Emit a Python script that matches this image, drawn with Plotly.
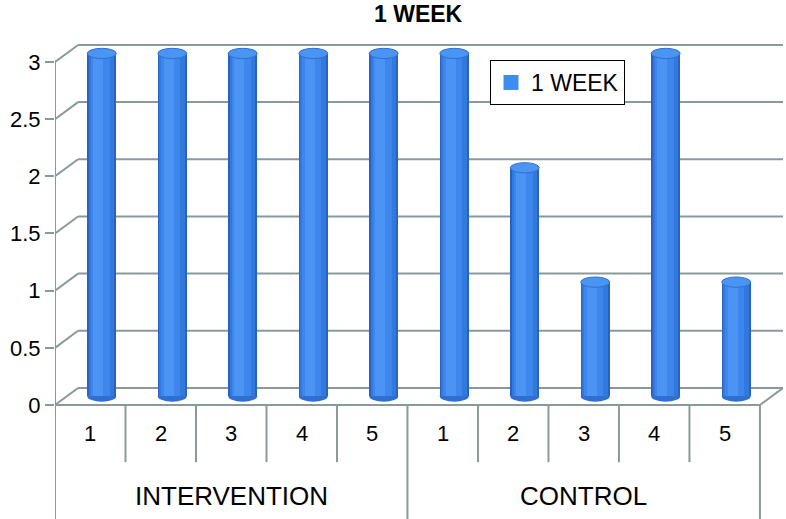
import plotly.graph_objects as go

# data
title = "1 WEEK"
groups = ["INTERVENTION", "CONTROL"]
subjects = ["1", "2", "3", "4", "5"]
intervention = [3, 3, 3, 3, 3]
control = [3, 2, 1, 3, 1]
y_ticks = [0, 0.5, 1, 1.5, 2, 2.5, 3]

values = intervention + control
xpos = list(range(len(values)))
n = len(values)

# fake 3d geometry (in axis units)
W, H = 786, 519
ml, mr = 55, 3
d = 0.327          # depth offset in x
dv = 0.149         # depth offset in y
bw = 0.41          # cylinder width
ry = 0.045         # ellipse half height
ymin, ymax = -0.997, 3.542
grid = "#8a9a9a"
font = "Liberation Sans, Arial, sans-serif"

fig = go.Figure()

# cylinder body, built from overlaid strips
strips = [  # (width, centre shift, colour)
    (bw, 0.0, "#2a62c2"),
    (bw * 0.88, -0.005, "#3378dc"),
    (bw * 0.66, -0.02, "#3d87ec"),
    (bw * 0.34, -0.05, "#4b94f3"),
]
for k, (w, sh, col) in enumerate(strips):
    fig.add_trace(go.Bar(
        x=xpos, y=values, base=[dv / 2] * n,
        width=w, offset=d / 2 - w / 2 + sh,
        marker=dict(color=col, line=dict(width=0)),
        name=title, showlegend=False, hoverinfo="skip"))

# legend entry
fig.add_trace(go.Scatter(x=[None], y=[None], name=title, mode="markers",
                         marker=dict(symbol="square", size=15, color="#3f8cf0")))

shapes = []
line = dict(color=grid, width=2)
# back wall gridlines + diagonals
for v in y_ticks:
    shapes.append(dict(type="line", xref="x", yref="y", x0=-0.5 + d, x1=n - 0.5 + d,
                       y0=v + dv, y1=v + dv, line=line, layer="below"))
    shapes.append(dict(type="line", xref="x", yref="y", x0=-0.5, x1=-0.5 + d,
                       y0=v, y1=v + dv, line=line, layer="below"))
# floor front edge and right diagonal
shapes.append(dict(type="line", xref="x", yref="y", x0=-0.5, x1=n - 0.5, y0=0, y1=0,
                   line=line, layer="below"))
shapes.append(dict(type="line", xref="x", yref="y", x0=n - 0.5, x1=n - 0.5 + d, y0=0, y1=dv,
                   line=line, layer="below"))
# front y-axis line down through label table
shapes.append(dict(type="line", xref="x", yref="y", x0=-0.5, x1=-0.5, y0=3, y1=ymin,
                   line=line, layer="below"))
# category dividers
for i in range(n + 1):
    xb = i - 0.5
    full = (i % len(subjects) == 0)
    shapes.append(dict(type="line", xref="x", yref="y", x0=xb, x1=xb, y0=0,
                       y1=ymin if full else -0.5, line=line, layer="below"))

# bottom ellipses (under bars) and top caps
for i, v in zip(xpos, values):
    cx = i + d / 2
    shapes.append(dict(type="circle", xref="x", yref="y", x0=cx - bw / 2, x1=cx + bw / 2,
                       y0=dv / 2 - ry, y1=dv / 2 + ry, fillcolor="#2f6fd2",
                       line=dict(width=0), layer="below"))
    shapes.append(dict(type="circle", xref="x", yref="y", x0=cx - bw / 2, x1=cx + bw / 2,
                       y0=v + dv / 2 - ry, y1=v + dv / 2 + ry, fillcolor="#4a94f2",
                       line=dict(color="#2f6fd2", width=1), layer="above"))

annotations = []
for i in xpos:
    annotations.append(dict(x=i, y=-0.245, xref="x", yref="y", text=subjects[i % len(subjects)],
                            showarrow=False, font=dict(size=22, color="black", family=font)))
for g, name in enumerate(groups):
    annotations.append(dict(x=g * len(subjects) + (len(subjects) - 1) / 2, y=-0.796,
                            xref="x", yref="y", text=name, showarrow=False,
                            font=dict(size=26, color="black", family=font)))
annotations.append(dict(x=(418 - ml) / (W - ml - mr), y=1 - 14 / H, xref="paper", yref="paper",
                        xanchor="center", yanchor="middle",
                        text="<b>%s</b>" % title, showarrow=False,
                        font=dict(size=23, color="black", family=font)))

fig.update_layout(
    width=W, height=H,
    margin=dict(l=ml, r=mr, t=0, b=0, pad=0, autoexpand=False),
    paper_bgcolor="white", plot_bgcolor="white",
    barmode="overlay", bargap=0,
    font=dict(family=font, color="black"),
    shapes=shapes, annotations=annotations,
    showlegend=True,
    legend=dict(x=(490 - ml) / (W - ml - mr), y=1 - 60 / H, xanchor="left", yanchor="top",
                bgcolor="white", bordercolor="black", borderwidth=1,
                font=dict(size=23, color="black", family=font)),
    xaxis=dict(range=[-0.5, n - 0.5 + d], showticklabels=False, showgrid=False,
               zeroline=False, showline=False, fixedrange=True, automargin=False),
    yaxis=dict(range=[ymin, ymax], tickvals=y_ticks, ticktext=[("%g" % t) for t in y_ticks],
               ticks="outside", ticklen=9, tickcolor=grid, tickwidth=2,
               tickfont=dict(size=22, color="black", family=font),
               showgrid=False, zeroline=False, showline=False, fixedrange=True,
               automargin=False),
)

fig.write_html("out.html", config={"displayModeBar": False},
               post_script="document.body.style.margin='0';")
